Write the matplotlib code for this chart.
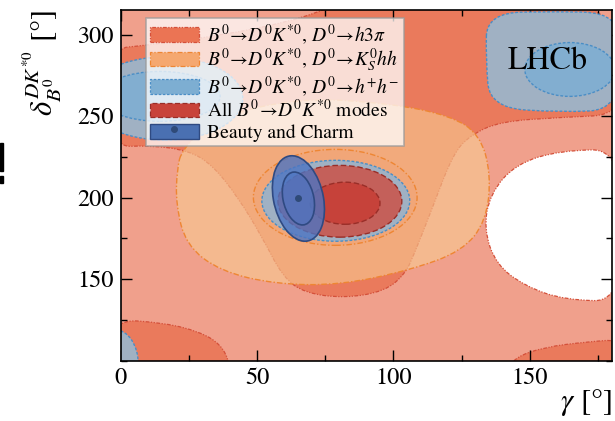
import numpy as np
import matplotlib
matplotlib.use('Agg')
import matplotlib.pyplot as plt
from matplotlib.path import Path
from matplotlib.patches import PathPatch, Ellipse, Patch, Rectangle
from matplotlib.lines import Line2D
from matplotlib.legend_handler import HandlerPatch
from matplotlib.ticker import MultipleLocator

plt.rcParams['font.family'] = 'STIXGeneral'
plt.rcParams['mathtext.fontset'] = 'stix'

# axis ranges and ticks [deg]
gamma_lim = [0, 180]
delta_lim = [100, 315]
gamma_ticks = [0, 50, 100, 150]
delta_ticks = [150, 200, 250, 300]

# B0 -> D0 K*0, D0 -> h3pi : 68% region (outline control points gamma, delta)
h3pi_band_g = [-3.8, 9.0, 36.5, 62.1, 76.8, 87.8, 161.0, 172.8, 184.9, 184.9, 161.0, 139.0, 128.1, 121.8,
               114.1, 107.5, 104.2, 96.9, 82.3, 67.6, 59.5, 51.9, 43.1, 33.5, 24.7, 10.8, -3.8]
h3pi_band_d = [291.4, 293.3, 299.4, 308.0, 316.5, 324.5, 324.5, 318.4, 296.9, 251.0, 249.2, 246.7, 238.2, 226.6,
               192.9, 164.8, 153.1, 142.7, 138.4, 141.5, 151.3, 175.8, 200.2, 220.4, 229.0, 232.1, 230.9]
h3pi_bl_g = [-3.8, 16.3, 29.1, 36.5, 39.8, 40.9, -3.8]
h3pi_bl_d = [125.6, 123.2, 117.7, 110.3, 99.9, 88.9, 88.9]
h3pi_br_g = [140.9, 144.6, 155.6, 170.2, 184.9, 184.9]
h3pi_br_d = [91.9, 102.3, 108.4, 111.5, 113.3, 91.9]
# area outside the h3pi 95% region
h3pi_hole_g = [184.9, 161.0, 144.6, 135.4, 133.2, 137.6, 148.2, 162.9, 184.9]
h3pi_hole_d = [229.6, 229.0, 220.4, 202.1, 180.7, 159.2, 145.8, 137.2, 136.6]

# D0 -> KS hh
kshh_2s_g = [22.5, 34.6, 65.8, 98.7, 120.7, 131.7, 135.8, 134.0, 125.2, 106.1, 80.4, 56.6, 36.5, 24.0, 20.3, 20.7]
kshh_2s_d = [229.6, 249.2, 261.4, 257.8, 250.4, 238.8, 214.3, 185.6, 167.2, 155.6, 146.4, 147.0, 155.0, 170.9,
             196.0, 217.4]
kshh_1s_c = (78.7, 200.2)
kshh_1s_ab = (30.0, 29.4)

# D0 -> h+h-
hh_2s_c = [(16.3, 260.8), (78.9, 198.1), (-2.0, 98.0)]
hh_2s_ab = [(28.5, 25.5), (27.1, 24.8), (8.5, 21.0)]
hh_tr_g = [134.3, 161.0, 177.2, 183.0, 183.0, 161.0, 135.4, 133.9]
hh_tr_d = [313.5, 314.1, 313.5, 303.1, 254.1, 252.3, 255.3, 284.7]
hh_1s_c = [(14.5, 262.1), (164.7, 278.6)]
hh_1s_ab = [(22.0, 15.3), (16.5, 16.5)]

# all B0 -> D0 K*0 modes
all_c = [(80.4, 197.8), (82.3, 196.6)]
all_ab = [(22.7, 22.0), (12.8, 12.9)]

# Beauty and Charm combination
bc_center = (65.2, 199.5)
bc_sigma = (3.9, 10.7)
bc_rho = -0.25
bc_levels = [2.448, 1.515]  # 95%, 68% (2D)

c_salmon = '#F0A08C'
c_h3pi = '#EA7A5C'
e_h3pi = '#D4503A'
c_kshh = '#F8CB92'
e_kshh = '#EE8633'
c_hh2 = '#A0B1C3'
c_hh1 = '#82AED0'
e_hh = '#4A8EC6'
c_all2 = '#C4605A'
c_all1 = '#C6423A'
e_all = '#992E28'
c_bc = '#4C74C2'
e_bc = '#2F4A82'

ls_h3pi = (0, (3, 1.2, 1, 1.2, 1, 1.2))
ls_kshh = (0, (4, 1.5, 1, 1.5))
ls_hh = (0, (2, 1.3))
ls_all = (0, (4, 2))


def smooth(g, d):
    pts = np.column_stack([g, d])
    mids = (pts + np.roll(pts, -1, axis=0)) / 2
    verts = [mids[-1]]
    codes = [Path.MOVETO]
    for i in range(len(pts)):
        verts += [pts[i], mids[i]]
        codes += [Path.CURVE3, Path.CURVE3]
    verts.append(mids[-1])
    codes.append(Path.CLOSEPOLY)
    return Path(verts, codes)


def legend_box(legend, orig_handle, xdescent, ydescent, width, height, fontsize):
    # slimmer box than the row height
    pad = 0.16 * height
    return Rectangle((-xdescent, -ydescent + pad), width, height - 2 * pad)


fig = plt.figure(figsize=(6.15, 4.21), dpi=100)
ax = fig.add_axes([0.196, 0.143, 0.7985, 0.833])
ax.set_facecolor(c_salmon)

# h3pi
for g, d in [(h3pi_band_g, h3pi_band_d), (h3pi_bl_g, h3pi_bl_d), (h3pi_br_g, h3pi_br_d)]:
    ax.add_patch(PathPatch(smooth(g, d), fc=c_h3pi, ec=e_h3pi, lw=0.9, ls=ls_h3pi, zorder=1))
ax.add_patch(PathPatch(smooth(h3pi_hole_g, h3pi_hole_d), fc='white', ec=e_h3pi, lw=0.9, ls=ls_h3pi, zorder=1))

# KS hh
ax.add_patch(PathPatch(smooth(kshh_2s_g, kshh_2s_d), fc=c_kshh, alpha=0.6, ec='none', zorder=2))
ax.add_patch(PathPatch(smooth(kshh_2s_g, kshh_2s_d), fc='none', ec=e_kshh, lw=1.0, ls=ls_kshh, zorder=2))
ax.add_patch(Ellipse(kshh_1s_c, 2 * kshh_1s_ab[0], 2 * kshh_1s_ab[1], fc='#F0A070', alpha=0.3, ec='none', zorder=2))
ax.add_patch(Ellipse(kshh_1s_c, 2 * kshh_1s_ab[0], 2 * kshh_1s_ab[1], fc='none', ec=e_kshh, lw=1.0,
                     ls=ls_kshh, zorder=2))

# h+h-
for c, ab in zip(hh_2s_c, hh_2s_ab):
    ax.add_patch(Ellipse(c, 2 * ab[0], 2 * ab[1], fc=c_hh2, ec=e_hh, lw=1.0, ls=ls_hh, zorder=3))
ax.add_patch(PathPatch(smooth(hh_tr_g, hh_tr_d), fc=c_hh2, ec=e_hh, lw=1.0, ls=ls_hh, zorder=3))
for c, ab in zip(hh_1s_c, hh_1s_ab):
    ax.add_patch(Ellipse(c, 2 * ab[0], 2 * ab[1], fc=c_hh1, ec=e_hh, lw=1.0, ls=ls_hh, zorder=3))

# all modes
for c, ab, fc in zip(all_c, all_ab, [c_all2, c_all1]):
    ax.add_patch(Ellipse(c, 2 * ab[0], 2 * ab[1], fc=fc, ec=e_all, lw=1.0, ls=ls_all, zorder=4))

# beauty and charm
sg, sd = bc_sigma
cov = np.array([[sg ** 2, bc_rho * sg * sd], [bc_rho * sg * sd, sd ** 2]])
vals, vecs = np.linalg.eigh(cov)
ang = np.degrees(np.arctan2(vecs[1, 1], vecs[0, 1]))
for k, a in zip(bc_levels, [0.8, 0.55]):
    ax.add_patch(Ellipse(bc_center, 2 * k * np.sqrt(vals[1]), 2 * k * np.sqrt(vals[0]), angle=ang,
                         fc=c_bc, alpha=a, ec='none', zorder=5))
    ax.add_patch(Ellipse(bc_center, 2 * k * np.sqrt(vals[1]), 2 * k * np.sqrt(vals[0]), angle=ang,
                         fc='none', ec=e_bc, lw=1.2, zorder=5))
ax.plot(*bc_center, 'o', color='#2F4A78', ms=4, zorder=6)

ax.text(156.7, 283.5, 'LHCb', fontsize=23, ha='center', va='center', zorder=7)

ax.set_xlim(gamma_lim)
ax.set_ylim(delta_lim)
ax.set_xticks(gamma_ticks)
ax.set_yticks(delta_ticks)
ax.xaxis.set_minor_locator(MultipleLocator(25))
ax.yaxis.set_minor_locator(MultipleLocator(25))
ax.tick_params(which='both', direction='in', top=True, right=True, width=1.0, labelsize=17.5)
ax.tick_params(which='major', length=8, pad=5)
ax.tick_params(which='minor', length=4.5)
for s in ax.spines.values():
    s.set_linewidth(1.2)
    s.set_zorder(10)

ax.set_xlabel(r'$\gamma$ [°]', fontsize=22, loc='right')
ax.xaxis.set_label_coords(1.0, -0.075)
ax.set_ylabel(r'$\delta_{B^0}^{DK^{*0}}$ [°]', fontsize=22, loc='top')
ax.yaxis.set_label_coords(-0.115, 1.0)

arrow = r'\!\rightarrow\!'
labels = [r'$B^0' + arrow + r'D^0K^{*0}$, $D^0' + arrow + r'h3\pi$',
          r'$B^0' + arrow + r'D^0K^{*0}$, $D^0' + arrow + r'K^0_Shh$',
          r'$B^0' + arrow + r'D^0K^{*0}$, $D^0' + arrow + r'h^{+}h^{-}$',
          r'All $B^0' + arrow + r'D^0K^{*0}$ modes',
          'Beauty and Charm']
handles = [Patch(fc='#EB7454', ec=e_h3pi, ls=ls_h3pi, lw=0.9),
           Patch(fc='#F5A870', ec=e_kshh, ls=ls_kshh, lw=0.9),
           Patch(fc='#7DAED2', ec=e_hh, ls=ls_hh, lw=0.9),
           Patch(fc='#C8433A', ec=e_all, ls=ls_all, lw=0.9),
           (Patch(fc='#4A70B2', ec=e_bc, lw=1.0),
            Line2D([], [], marker='o', ls='', color='#2F4A78', ms=4))]
leg = ax.legend(handles, labels, loc='upper left', bbox_to_anchor=(0.052, 0.977), borderaxespad=0,
                fontsize=14, fancybox=False, framealpha=0.75, edgecolor='#9a9a9a',
                handlelength=2.5, handleheight=1.3, handletextpad=0.45, borderpad=0.2, labelspacing=0.0,
                handler_map={Patch: HandlerPatch(patch_func=legend_box)})
leg.get_frame().set_linewidth(1.2)
leg.set_zorder(8)

# clipped glyph at the left border
fig.add_artist(Rectangle((0, 0.594), 0.005, 0.066, transform=fig.transFigure, color='k'))
fig.add_artist(Rectangle((0, 0.566), 0.005, 0.016, transform=fig.transFigure, color='k'))

fig.savefig('out.png', dpi=100)
